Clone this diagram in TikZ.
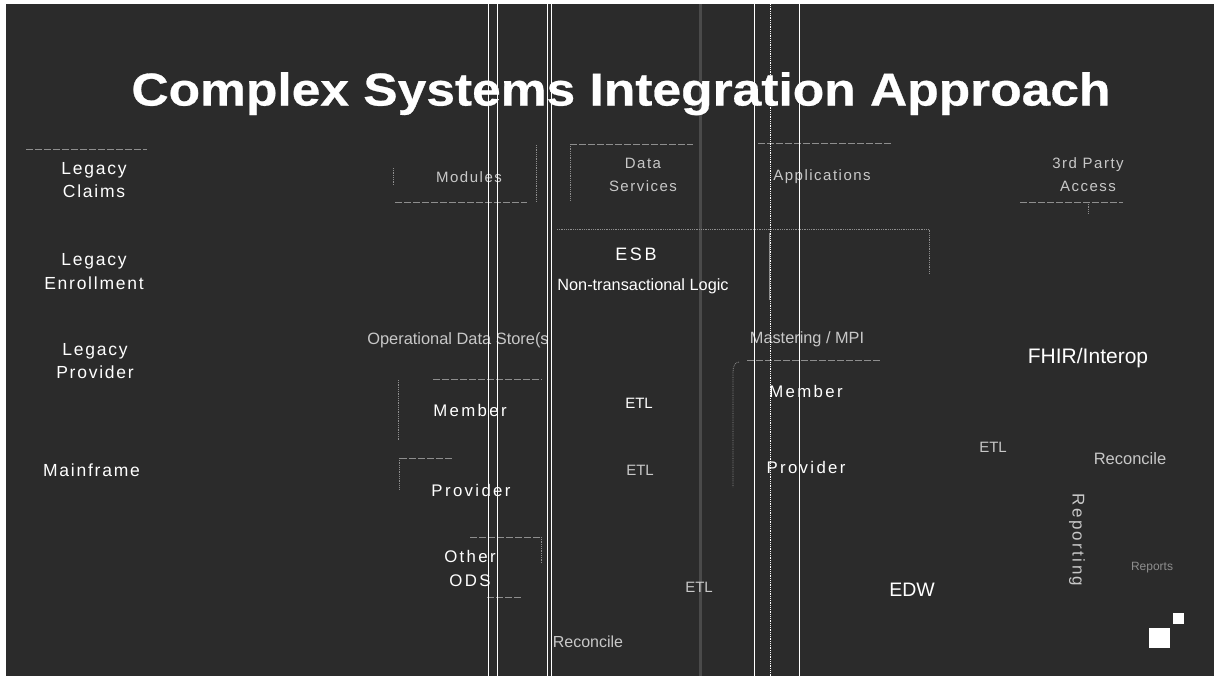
\documentclass[tikz,border=0pt]{standalone}
\usepackage{fontspec}
\setmainfont{Liberation Sans}
\newfontfamily\lblfont{Liberation Sans}[LetterSpace=10]
\newfontfamily\widefont{Liberation Sans}[LetterSpace=14]
\newfontfamily\titlefont{Liberation Sans}[FakeStretch=1.12,FakeBold=0.6]
\definecolor{bgdark}{HTML}{2B2B2B}
\definecolor{dimtxt}{HTML}{C8C8C8}
\definecolor{faintln}{HTML}{8E8E8E}
\definecolor{bandgray}{HTML}{4A4A4A}

\begin{document}
\begin{tikzpicture}[x=1pt, y=-1pt,
  legacy/.style={text=white, inner sep=0pt, align=center, font=\lblfont\fontsize{17.5}{23.5}\selectfont},
  layer/.style={text=dimtxt, inner sep=0pt, align=center, font=\lblfont\fontsize{15}{23}\selectfont},
  entity/.style={text=white, inner sep=0pt, anchor=base, align=center, font=\widefont\fontsize{16.8}{24}\selectfont},
  plainlbl/.style={text=white, inner sep=0pt, anchor=base, font=\fontsize{#1}{#1}\selectfont},
  dashln/.style={draw=faintln, line width=0.8pt, dash pattern=on 7pt off 2pt},
  dotln/.style={draw=faintln, line width=0.8pt, densely dotted},
  scan/.style={draw=white, line width=1pt}
]
\useasboundingbox (0,0) rectangle (1222,681);
\fill[white] (0,0) rectangle (1222,681);
\fill[bgdark] (6,4) rectangle (1214,676);
\draw[bandgray, line width=3pt] (700,4) -- (700,676);

% frame pieces
\draw[dashln] (26,149) -- (147,149);
\draw[dotln] (393,168) -- (393,185);
\draw[dashln] (395,202) -- (527,202);
\draw[dotln] (536,145) -- (536,202);
\draw[dashln] (570,144) -- (693,144);
\draw[dotln] (570,144) -- (570,200);
\draw[dotln] (557,229) -- (929,229) -- (929,273);
\draw[faintln, line width=0.8pt] (769,233) -- (769,300);
\draw[dashln] (758,143) -- (892,143);
\draw[dashln] (1020,202) -- (1123,202);
\draw[dotln] (1088,202) -- (1088,214);
\draw[dashln] (433,379) -- (542,379);
\draw[dotln] (398,380) -- (398,440);
\draw[dashln] (400,458) -- (453,458);
\draw[dotln] (399,458) -- (399,490);
\draw[dashln] (470,537) -- (540,537);
\draw[dotln] (541,537) -- (541,563);
\draw[dashln] (487,597) -- (522,597);
\draw[dashln] (747,360) -- (880,360);
\draw[dotln] (739,362) to[out=180,in=90] (733,372) -- (733,487);

\node[anchor=base, inner sep=0pt, text=white, font=\titlefont\bfseries\fontsize{46}{46}\selectfont] (title) at (621,105.5) {Complex Systems Integration Approach};

\node[legacy] (claims) at (94,180) {Legacy\\Claims};
\node[legacy] (enroll) at (94,271.5) {Legacy\\Enrollment};
\node[legacy] (lprov) at (95,361) {Legacy\\Provider};
\node[legacy, anchor=base] (mainfr) at (91.5,476) {Mainframe};

\node[layer, anchor=base] (modules) at (469,182) {Modules};
\node[layer] (datasvc) at (643,174.5) {Data\\Services};
\node[layer, anchor=base] (apps) at (822,180) {Applications};
\node[layer] (third) at (1088,174.5) {3rd Party\\Access};

\node[entity, font=\widefont\fontsize{18}{18}\selectfont] (esb) at (636,260) {ESB};
\node[plainlbl=16.3] (nontx) at (643,290) {Non-transactional Logic};
\node[plainlbl=16.4, text=dimtxt] (ods) at (458,344) {Operational Data Store(s};
\node[plainlbl=16.3, text=dimtxt] (mpi) at (807,343) {Mastering / MPI};
\node[plainlbl=21] (fhir) at (1088,363) {FHIR/Interop};

\node[entity] (odsmem) at (470,416) {Member};
\node[entity] (odsprov) at (471,496) {Provider};
\node[entity, anchor=center] (other) at (470,568.5) {Other\\ODS};
\node[entity] (mpimem) at (806,397) {Member};
\node[entity] (mpiprov) at (806,473) {Provider};

\node[plainlbl=15] (etla) at (639,408) {ETL};
\node[plainlbl=15, text=dimtxt] (etlb) at (640,475) {ETL};
\node[plainlbl=15, text=dimtxt] (etlc) at (993,452) {ETL};
\node[plainlbl=15, text=dimtxt] (etld) at (699,592) {ETL};
\node[plainlbl=16.5, text=dimtxt] (reconr) at (1130,464) {Reconcile};
\node[plainlbl=16, text=dimtxt] (reconb) at (588,647) {Reconcile};
\node[plainlbl=19.5] (edw) at (912,596) {EDW};
\node[text=dimtxt, inner sep=0pt, rotate=-90, font=\widefont\fontsize{17}{17}\selectfont] (rptg) at (1077,540) {Reporting};
\node[plainlbl=12, text=faintln] (reports) at (1152,570) {Reports};

\fill[white] (1149,628) rectangle (1170,648);
\fill[white] (1173,613) rectangle (1184,624);

% scan streaks
\draw[scan] (488,4) -- (488,676);
\draw[scan] (497,4) -- (497,676);
\draw[scan] (547,4) -- (547,676);
\draw[scan, line width=1.8pt] (551.5,4) -- (551.5,676);
\draw[scan] (754,4) -- (754,676);
\draw[scan] (799,4) -- (799,676);
\draw[white, line width=0.8pt, densely dotted] (770,4) -- (770,676);
\end{tikzpicture}
\end{document}
